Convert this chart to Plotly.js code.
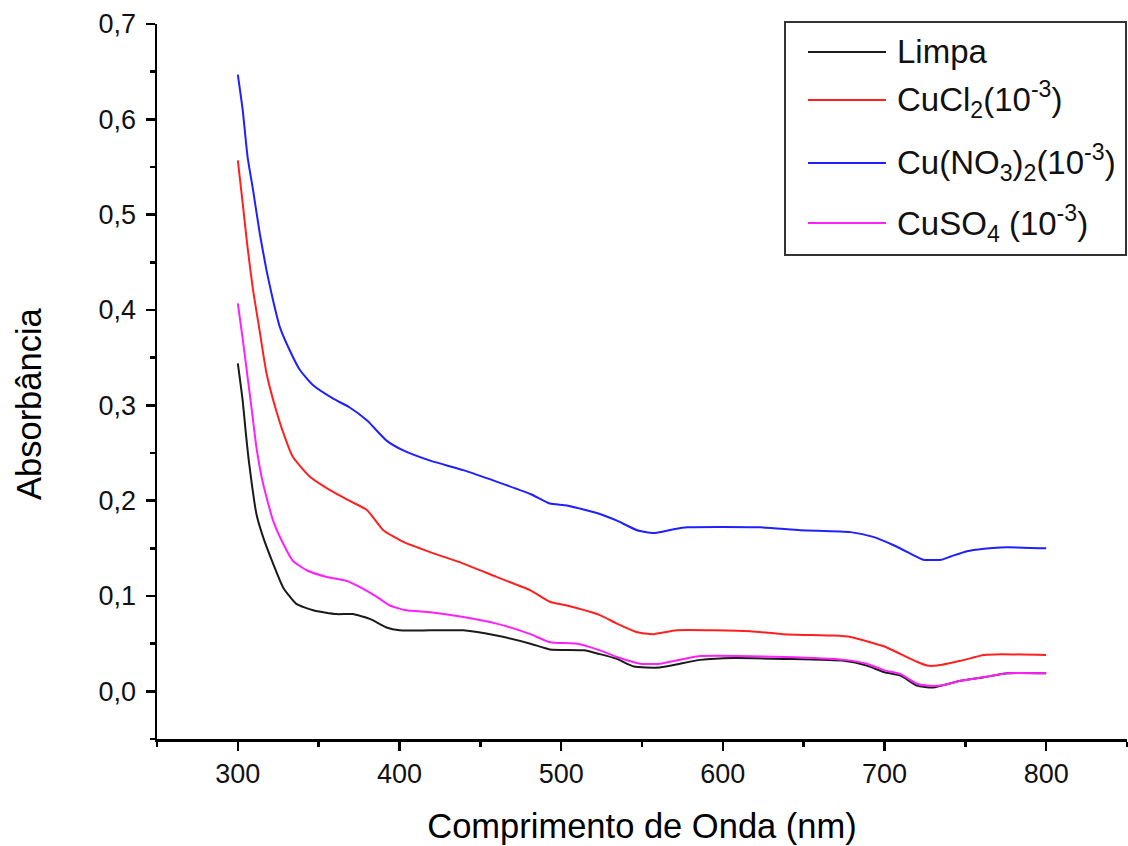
<!DOCTYPE html>
<html>
<head>
<meta charset="utf-8">
<script src="https://cdn.plot.ly/plotly-3.0.1.min.js"></script>
<style>html,body{margin:0;padding:0;background:#fff;}#chart{width:1128px;height:846px;}</style>
</head>
<body>
<div id="chart"></div>
<script>
// Wavelength (nm) and absorbance
const limpaX = [300, 303, 305, 307, 311.5, 315.6, 321.8, 328, 336, 346.6, 361, 371, 381.7, 392, 400, 419, 439.5, 460, 481, 493, 514, 524, 534.5, 545, 561, 586, 607, 638, 675, 689, 700, 710, 720, 730, 747, 761.5, 776, 800];
const limpaY = [0.344, 0.305, 0.270, 0.239, 0.186, 0.162, 0.134, 0.109, 0.092, 0.085, 0.081, 0.081, 0.076, 0.067, 0.064, 0.064, 0.064, 0.0585, 0.050, 0.044, 0.043, 0.039, 0.034, 0.026, 0.025, 0.033, 0.035, 0.034, 0.032, 0.027, 0.020, 0.0165, 0.006, 0.004, 0.011, 0.0147, 0.019, 0.019];

const cuclX = [300, 303, 306, 309.4, 313.6, 317.7, 324, 329, 334, 344.6, 357, 369, 380, 390, 402, 419, 439.5, 460, 481, 493, 503.5, 524, 534.5, 547, 557, 571.6, 617, 637.6, 668.6, 679, 700, 710, 720, 726.4, 732.6, 747, 761.5, 772, 800];
const cuclY = [0.557, 0.512, 0.466, 0.421, 0.377, 0.334, 0.293, 0.267, 0.246, 0.225, 0.211, 0.200, 0.190, 0.169, 0.157, 0.146, 0.134, 0.120, 0.106, 0.094, 0.090, 0.080, 0.071, 0.062, 0.060, 0.064, 0.063, 0.060, 0.0585, 0.057, 0.047, 0.039, 0.031, 0.027, 0.027, 0.032, 0.038, 0.039, 0.038];

const nitX = [300, 303, 306, 309.4, 313.6, 317.7, 321.8, 326, 332, 338.4, 346.6, 359, 369, 380, 392, 402, 419, 439.5, 460, 481, 493, 503.5, 524, 534.5, 547, 557, 569.5, 578, 623, 648, 679, 693, 706, 720, 724, 735, 741, 751, 761.5, 772, 782, 800];
const nitY = [0.647, 0.610, 0.561, 0.526, 0.480, 0.442, 0.410, 0.382, 0.358, 0.337, 0.321, 0.307, 0.298, 0.284, 0.263, 0.253, 0.242, 0.232, 0.220, 0.207, 0.197, 0.195, 0.186, 0.179, 0.169, 0.166, 0.170, 0.172, 0.172, 0.169, 0.167, 0.162, 0.153, 0.141, 0.138, 0.138, 0.1415, 0.147, 0.1496, 0.151, 0.151, 0.150];

const sulX = [300, 303, 306, 309, 311.5, 315.6, 321.8, 328, 334, 342.5, 355, 367, 377.6, 386, 394, 404, 419, 439.5, 460, 481, 493, 510, 524, 534.5, 549, 561, 586, 638, 675, 689, 700, 710, 720, 726, 735, 747, 761.5, 776, 800];
const sulY = [0.407, 0.370, 0.330, 0.290, 0.256, 0.218, 0.179, 0.155, 0.137, 0.127, 0.120, 0.116, 0.1075, 0.099, 0.090, 0.085, 0.083, 0.078, 0.071, 0.060, 0.0515, 0.050, 0.043, 0.036, 0.029, 0.029, 0.037, 0.036, 0.033, 0.029, 0.022, 0.018, 0.008, 0.006, 0.006, 0.011, 0.015, 0.019, 0.019];

const seriesNames = ["Limpa", "CuCl<sub>2</sub>(10<sup>-3</sup>)", "Cu(NO<sub>3</sub>)<sub>2</sub>(10<sup>-3</sup>)", "CuSO<sub>4</sub> (10<sup>-3</sup>)"];
const seriesColors = ["#1a1a1a", "#ff2020", "#2020ff", "#ff20ff"];
const xTitle = "Comprimento de Onda (nm)";
const yTitle = "Absorbância";

const FONT = 'Arial, "Liberation Sans", sans-serif';
const W = 1128, H = 846;
const M = {l: 157, r: 1, t: 24, b: 107};
const pw = W - M.l - M.r, ph = H - M.t - M.b;
const px = v => (v - M.l) / pw;
const py = v => (H - M.b - v) / ph;

const xs = [limpaX, cuclX, nitX, sulX];
const ys = [limpaY, cuclY, nitY, sulY];
const traces = xs.map((x, i) => ({
  x: x, y: ys[i], type: 'scatter', mode: 'lines',
  name: seriesNames[i], showlegend: false,
  line: {color: seriesColors[i], width: 2, shape: 'spline', smoothing: 0.5}
}));

// manual legend (long line samples like the original)
const legendRows = [52, 100, 163, 223];
const shapes = [{
  type: 'rect', xref: 'paper', yref: 'paper',
  x0: px(785), x1: px(1126), y0: py(255), y1: py(22),
  line: {color: '#333', width: 2}, fillcolor: 'rgba(0,0,0,0)'
}];
const annotations = [];
legendRows.forEach((r, i) => {
  shapes.push({type: 'line', xref: 'paper', yref: 'paper',
    x0: px(808), x1: px(886), y0: py(r), y1: py(r),
    line: {color: seriesColors[i], width: 2}});
  annotations.push({xref: 'paper', yref: 'paper', x: px(895), y: py(r),
    xanchor: 'left', yanchor: 'middle', showarrow: false,
    text: seriesNames[i], font: {family: FONT, size: 33, color: '#111'}});
});
// y-axis title, placed as in the original (slightly below the plot centre)
annotations.push({xref: 'paper', yref: 'paper', x: px(29), y: py(404),
  xanchor: 'center', yanchor: 'middle', textangle: -90, showarrow: false,
  text: yTitle, font: {family: FONT, size: 34.5, color: '#000'}});

const layout = {
  width: W, height: H,
  margin: M,
  paper_bgcolor: '#fff', plot_bgcolor: '#fff',
  separators: ',.',
  font: {family: FONT, color: '#111'},
  showlegend: false,
  xaxis: {
    range: [250, 850], showline: true, linecolor: '#000', linewidth: 2.5,
    showgrid: false, zeroline: false,
    ticks: 'outside', ticklen: 9, tickwidth: 2.5, tickcolor: '#000',
    tick0: 0, dtick: 100,
    minor: {dtick: 50, ticks: 'outside', ticklen: 5, tickwidth: 2.5, tickcolor: '#000', showgrid: false},
    tickfont: {family: FONT, size: 27, color: '#111'},
    ticklabelstandoff: 0,
    title: {text: xTitle, font: {family: FONT, size: 34.5, color: '#000'}, standoff: 26}
  },
  yaxis: {
    range: [-0.05, 0.7], showline: true, linecolor: '#000', linewidth: 2.5,
    showgrid: false, zeroline: false,
    ticks: 'outside', ticklen: 9, tickwidth: 2.5, tickcolor: '#000',
    tick0: 0, dtick: 0.1, tickformat: '.1f',
    minor: {dtick: 0.05, ticks: 'outside', ticklen: 5, tickwidth: 2.5, tickcolor: '#000', showgrid: false},
    tickfont: {family: FONT, size: 27, color: '#111'},
    ticklabelstandoff: 4
  },
  shapes: shapes,
  annotations: annotations
};

Plotly.newPlot('chart', traces, layout, {displayModeBar: false, staticPlot: true});
</script>
</body>
</html>
